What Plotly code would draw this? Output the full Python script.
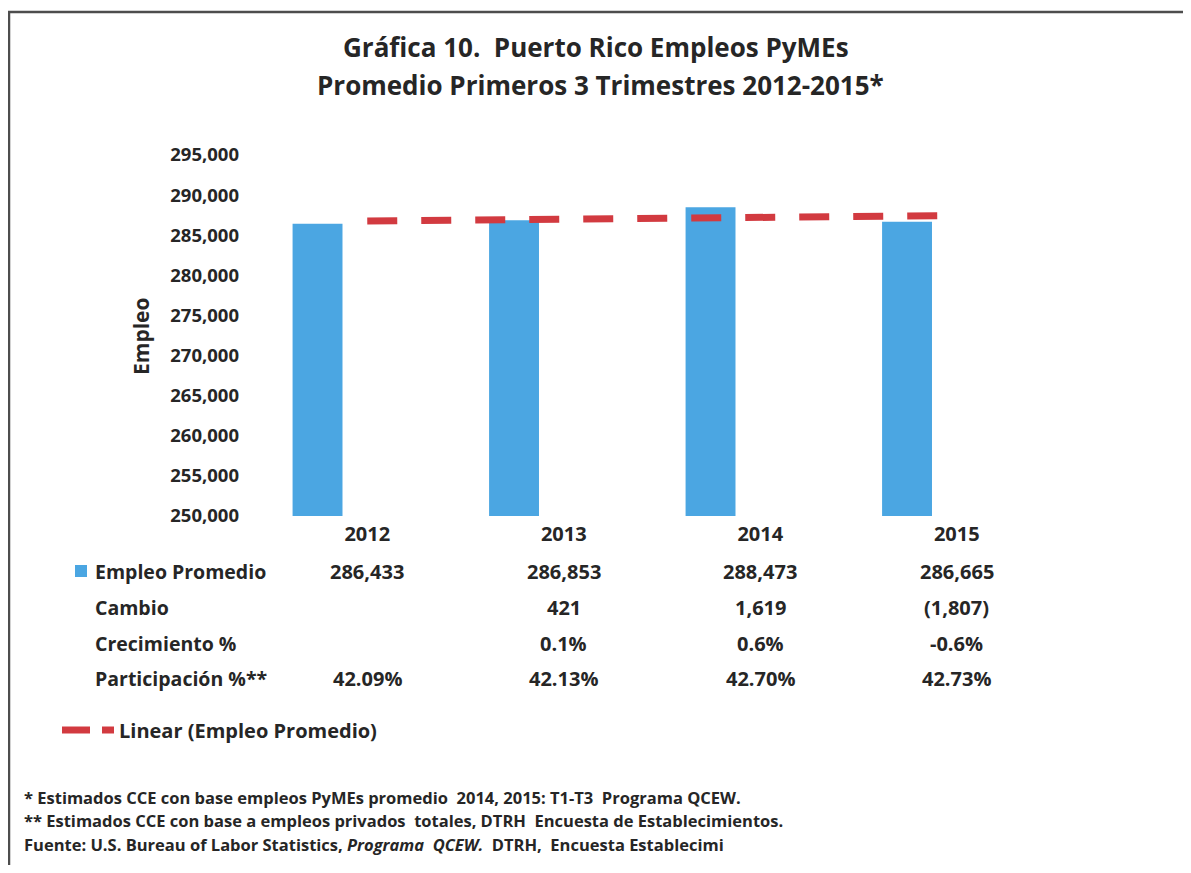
import numpy as np
import plotly.graph_objects as go

# data
years = ['2012', '2013', '2014', '2015']
empleo = [286433, 286853, 288473, 286665]
cambio = ['', '421', '1,619', '(1,807)']
crecimiento = ['', '0.1%', '0.6%', '-0.6%']
participacion = ['42.09%', '42.13%', '42.70%', '42.73%']
row_labels = ['Empleo Promedio', 'Cambio', 'Crecimiento %', 'Participación %**']
footnotes = [
    '* Estimados CCE con base empleos PyMEs promedio  2014, 2015: T1-T3  Programa QCEW.',
    '** Estimados CCE con base a empleos privados  totales, DTRH  Encuesta de Establecimientos.',
    'Fuente: U.S. Bureau of Labor Statistics, <i>Programa  QCEW.</i>  DTRH,  Encuesta Establecimi',
]

OFF = 8                      # page body margin
W, H = 1191 - 2 * OFF, 873 - 2 * OFF
L, R, T, B = 269, 1055, 155, 516   # plot area, page pixels

FONT = 'Open Sans'
TXT = '#262626'
BAR = '#4ba6e2'
RED = '#d23a40'


def px(x):
    return (x - L) / (R - L)


def py(y):
    return (B - y) / (B - T)


idx = list(range(len(years)))
slope, icpt = np.polyfit(idx, empleo, 1)
trend_x = [idx[0], idx[-1]]
trend_y = [icpt + slope * v for v in trend_x]

fig = go.Figure()
fig.add_bar(x=idx, y=empleo, width=0.254, offset=-0.38,
            marker=dict(color=BAR, line=dict(width=0)), showlegend=False)
fig.add_scatter(x=trend_x, y=trend_y, mode='lines',
                line=dict(color=RED, width=7, dash='30px,24px'), showlegend=False)


def bold(size):
    return dict(family=FONT, size=size, color=TXT, weight='bold')


ann = []
# title
ann.append(dict(text='Gráfica 10.  Puerto Rico Empleos PyMEs', x=px(596), y=py(47)))
ann.append(dict(text='Promedio Primeros 3 Trimestres 2012-2015*', x=px(600), y=py(85)))
for a in ann:
    a.update(xref='paper', yref='paper', showarrow=False, font=bold(26),
             xanchor='center', yanchor='middle')

# y axis title
ann.append(dict(text='Empleo', x=px(141), y=py(336), xref='paper', yref='paper',
                showarrow=False, textangle=-90, font=bold(21),
                xanchor='center', yanchor='middle'))

# data table
row_y = [571, 607, 643, 678]
rows = [[f'{v:,}' for v in empleo], cambio, crecimiento, participacion]
for lab, yy, vals in zip(row_labels, row_y, rows):
    ann.append(dict(text=lab, x=px(93), y=py(yy), xref='paper', yref='paper',
                    showarrow=False, font=bold(19.5), xanchor='left', yanchor='middle'))
    for i, v in zip(idx, vals):
        if v:
            ann.append(dict(text=v, x=i, y=py(yy), xref='x', yref='paper',
                            showarrow=False, font=bold(20),
                            xanchor='center', yanchor='middle'))

# trend legend
ann.append(dict(text='Linear (Empleo Promedio)', x=px(117), y=py(730),
                xref='paper', yref='paper', showarrow=False, font=bold(20),
                xanchor='left', yanchor='middle'))

# footnotes
for k, t in enumerate(footnotes):
    ann.append(dict(text=t, x=px(22), y=py(797 + 23.5 * k), xref='paper', yref='paper',
                    showarrow=False, font=bold(16.5), xanchor='left', yanchor='middle'))

shapes = [
    # outer frame
    dict(type='rect', xref='paper', yref='paper', x0=px(9), x1=px(1230),
         y0=py(12), y1=py(900), line=dict(color='#4d4d4d', width=2.5)),
    # legend key for bars
    dict(type='rect', xref='paper', yref='paper', x0=px(75), x1=px(87),
         y0=py(565), y1=py(577), fillcolor=BAR, line=dict(width=0)),
    # legend key for trend line
    dict(type='line', xref='paper', yref='paper', x0=px(62), x1=px(90),
         y0=py(730), y1=py(730), line=dict(color=RED, width=7)),
    dict(type='line', xref='paper', yref='paper', x0=px(102), x1=px(114),
         y0=py(730), y1=py(730), line=dict(color=RED, width=7)),
]

fig.update_layout(
    width=W, height=H,
    margin=dict(l=L - OFF, r=W + OFF - R, t=T - OFF, b=H + OFF - B),
    paper_bgcolor='white', plot_bgcolor='white',
    annotations=ann, shapes=shapes,
    xaxis=dict(range=[-0.5, 3.5], tickvals=idx, ticktext=years,
               showgrid=False, zeroline=False, showline=False, ticks='',
               tickfont=bold(20), ticklabelstandoff=4),
    yaxis=dict(range=[250000, 295000], dtick=5000, tickformat=',',
               showgrid=False, zeroline=False, showline=False, ticks='',
               tickfont=bold(18.5), ticklabelstandoff=29),
)

fig.write_html('out.html')
